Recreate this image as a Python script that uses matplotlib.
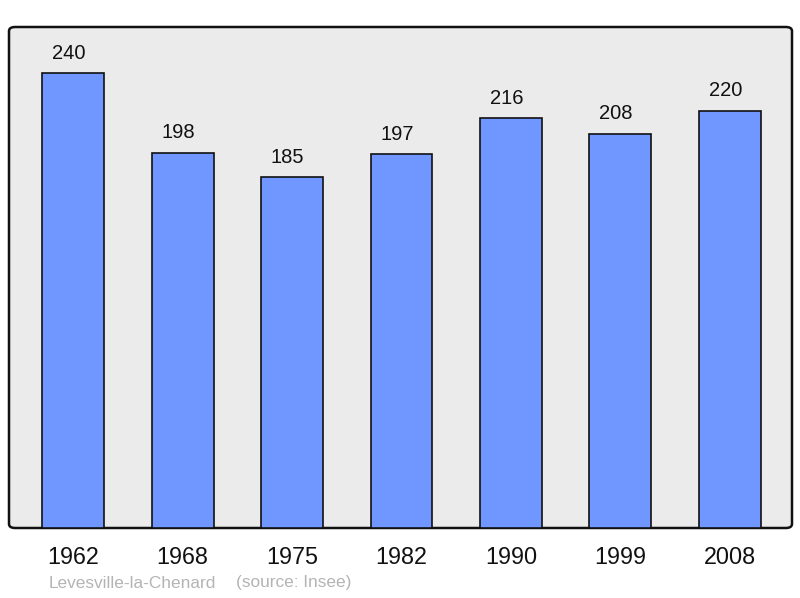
import matplotlib
matplotlib.use("Agg")
import matplotlib.pyplot as plt
from matplotlib.patches import FancyBboxPatch

years = ["1962", "1968", "1975", "1982", "1990", "1999", "2008"]
population = [240, 198, 185, 197, 216, 208, 220]

plt.rcParams['font.family'] = ['Liberation Sans', 'DejaVu Sans']

fig = plt.figure(figsize=(8, 5.98), dpi=100)
ax = fig.add_axes([9 / 800, 70 / 598, 783 / 800, 501 / 598])
ax.set_xlim(-0.585, 6.567)
ax.set_ylim(0, 264.2)
ax.axis('off')

# fond gris arrondi
frame = FancyBboxPatch((0, 0), 1, 1, boxstyle="round,pad=0,rounding_size=0.008",
                       transform=ax.transAxes, facecolor='#ebebeb',
                       edgecolor='#111111', linewidth=1.8, zorder=0, clip_on=False)
ax.add_patch(frame)

x = list(range(len(years)))
ax.bar(x, population, width=0.566, color='#7097ff', edgecolor='#111111',
       linewidth=1.2, zorder=2)

for i, v in enumerate(population):
    ax.annotate(str(v), (i, v), xytext=(-3.3, 14.3), textcoords='offset points',
                ha='center', va='center', fontsize=14.5, color='#111111')

for i, y in enumerate(years):
    ax.annotate(y, (i, 0), xytext=(0, -21), textcoords='offset points',
                ha='center', va='center', fontsize=16.8, color='#111111',
                annotation_clip=False)

fig.text(49 / 800, 1 - 583 / 598, "Levesville-la-Chenard",
         fontsize=12.4, color='#b4b4b4', ha='left', va='center')
fig.text(236 / 800, 1 - 583 / 598, "(source: Insee)",
         fontsize=12.4, color='#b4b4b4', ha='left', va='center')

fig.savefig("out.png", dpi=100)
